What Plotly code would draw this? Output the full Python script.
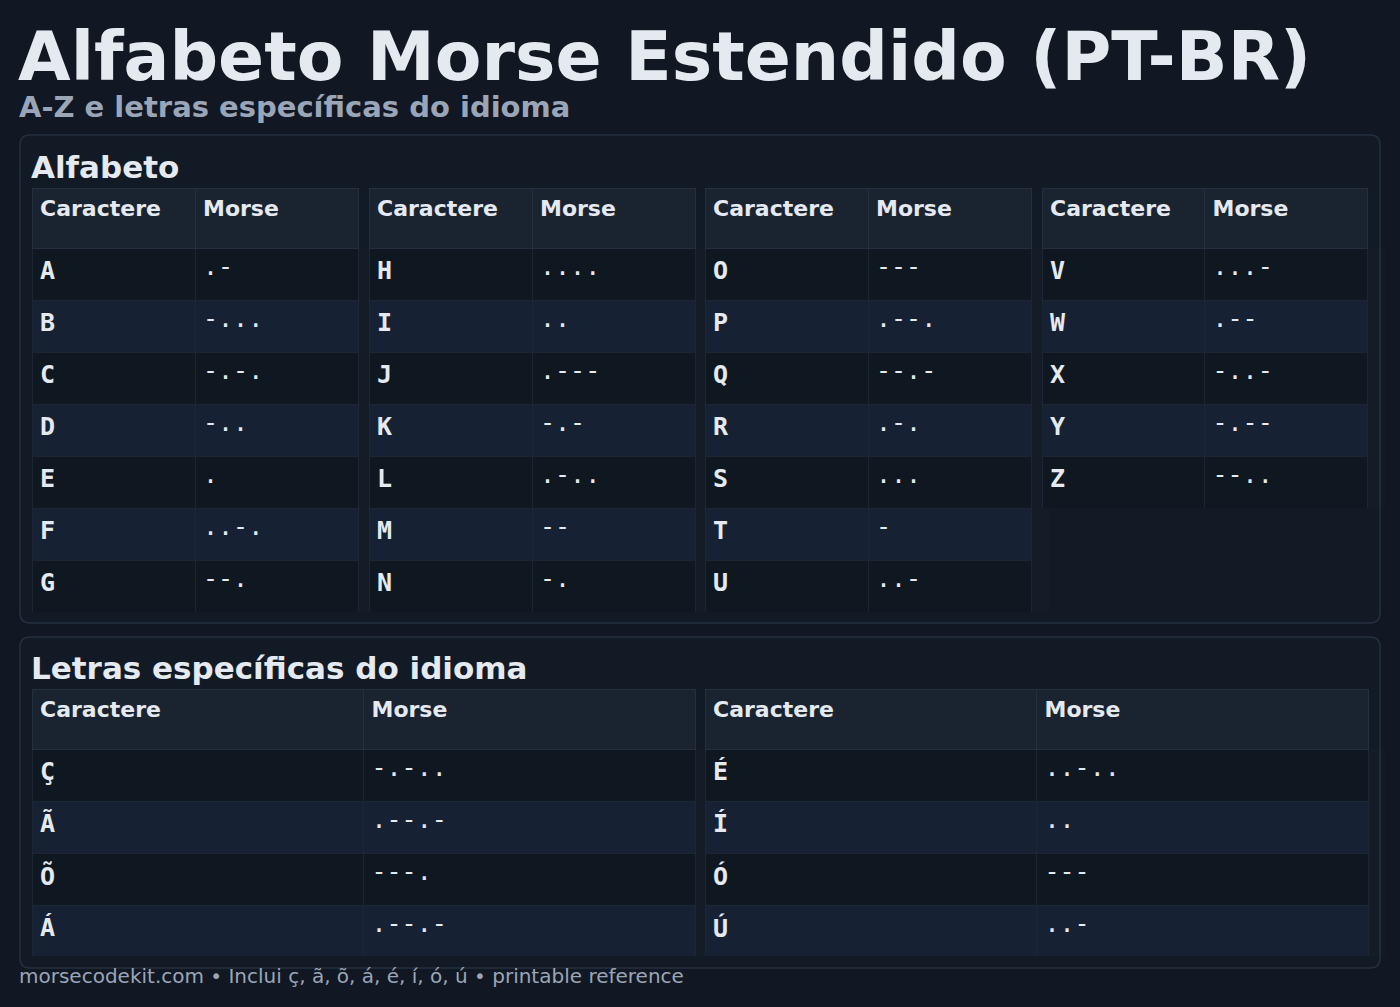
import plotly.graph_objects as go

W, H = 1400, 1007
title = "Alfabeto Morse Estendido (PT-BR)"
subtitle = "A-Z e letras específicas do idioma"
footer = "morsecodekit.com • Inclui ç, ã, õ, á, é, í, ó, ú • printable reference"
headers = ["Caractere", "Morse"]

alpha_groups = [
    (["A", "B", "C", "D", "E", "F", "G"], [".-", "-...", "-.-.", "-..", ".", "..-.", "--."]),
    (["H", "I", "J", "K", "L", "M", "N"], ["....", "..", ".---", "-.-", ".-..", "--", "-."]),
    (["O", "P", "Q", "R", "S", "T", "U"], ["---", ".--.", "--.-", ".-.", "...", "-", "..-"]),
    (["V", "W", "X", "Y", "Z"], ["...-", ".--", "-..-", "-.--", "--.."]),
]
special_groups = [
    (["Ç", "Ã", "Õ", "Á"], ["-.-..", ".--.-", "---.", ".--.-"]),
    (["É", "Í", "Ó", "Ú"], ["..-..", "..", "---", "..-"]),
]

BG = "#111823"
PANEL = "#121a26"
BORDER = "#243040"
HEAD = "#1a2431"
ROW_A = "#0f1720"
ROW_B = "#162233"
TXT = "#e5e9f0"
SUB = "#9aa6b8"

fig = go.Figure()

def px2x(p): return p / W
def px2y(p): return 1 - p / H

def add_table(x0, x1, ytop, chars, morse):
    nrows = len(chars)
    hh, rh = 60, 52
    ybot = ytop + hh + rh * nrows
    fills = [ROW_A if i % 2 == 0 else ROW_B for i in range(nrows)]
    fig.add_trace(go.Table(
        domain=dict(x=[px2x(x0), px2x(x1)], y=[px2y(ybot), px2y(ytop)]),
        columnwidth=[1, 1],
        header=dict(values=["<b>" + h + "</b>" for h in headers],
                    fill_color=HEAD, line_color=BORDER, height=hh, align="left",
                    font=dict(family="DejaVu Sans", size=22, color=TXT)),
        cells=dict(values=[["<b>" + c + "</b>" for c in chars], morse],
                   fill_color=[fills, fills], line_color="#1c2634", height=rh, align="left",
                   font=dict(family="DejaVu Sans Mono", size=25, color=TXT)),
    ))

def panel(y0, y1):
    r = 10
    x0, x1 = 20, 1380
    path = (f"M {x0+r},{y0} L {x1-r},{y0} Q {x1},{y0} {x1},{y0+r} L {x1},{y1-r} Q {x1},{y1} {x1-r},{y1} "
            f"L {x0+r},{y1} Q {x0},{y1} {x0},{y1-r} L {x0},{y0+r} Q {x0},{y0} {x0+r},{y0} Z")
    fig.add_shape(type="path", path=path, xref="x", yref="y", fillcolor=PANEL,
                  line=dict(color=BORDER, width=1.5), layer="below")

panel(135, 623)
panel(637, 968)

xs = [(32, 358), (369, 695), (705, 1031), (1042, 1368)]
for (x0, x1), (c, m) in zip(xs, alpha_groups):
    add_table(x0, x1, 188, c, m)
for (x0, x1), (c, m) in zip([(32, 695), (705, 1368)], special_groups):
    add_table(x0, x1, 689, c, m)

def text(x, y, s, size, color, bold=True):
    fig.add_annotation(x=x, y=y, xref="x", yref="y", text=("<b>%s</b>" % s) if bold else s,
                       showarrow=False, xanchor="left", yanchor="middle",
                       font=dict(family="DejaVu Sans", size=size, color=color))

text(16, 56, title, 68, TXT)
text(17, 107, subtitle, 29, SUB)
text(29, 167, "Alfabeto", 31, TXT)
text(29, 668, "Letras específicas do idioma", 31, TXT)
text(17, 976, footer, 20, SUB, bold=False)

fig.update_layout(
    width=W, height=H, margin=dict(l=0, r=0, t=0, b=0),
    paper_bgcolor=BG, plot_bgcolor=BG, showlegend=False,
    xaxis=dict(range=[0, W], visible=False, fixedrange=True),
    yaxis=dict(range=[H, 0], visible=False, fixedrange=True),
)
fig.write_html("out.html", config={"displayModeBar": False},
               post_script="document.body.style.margin='0';document.body.style.background='#111823';")
